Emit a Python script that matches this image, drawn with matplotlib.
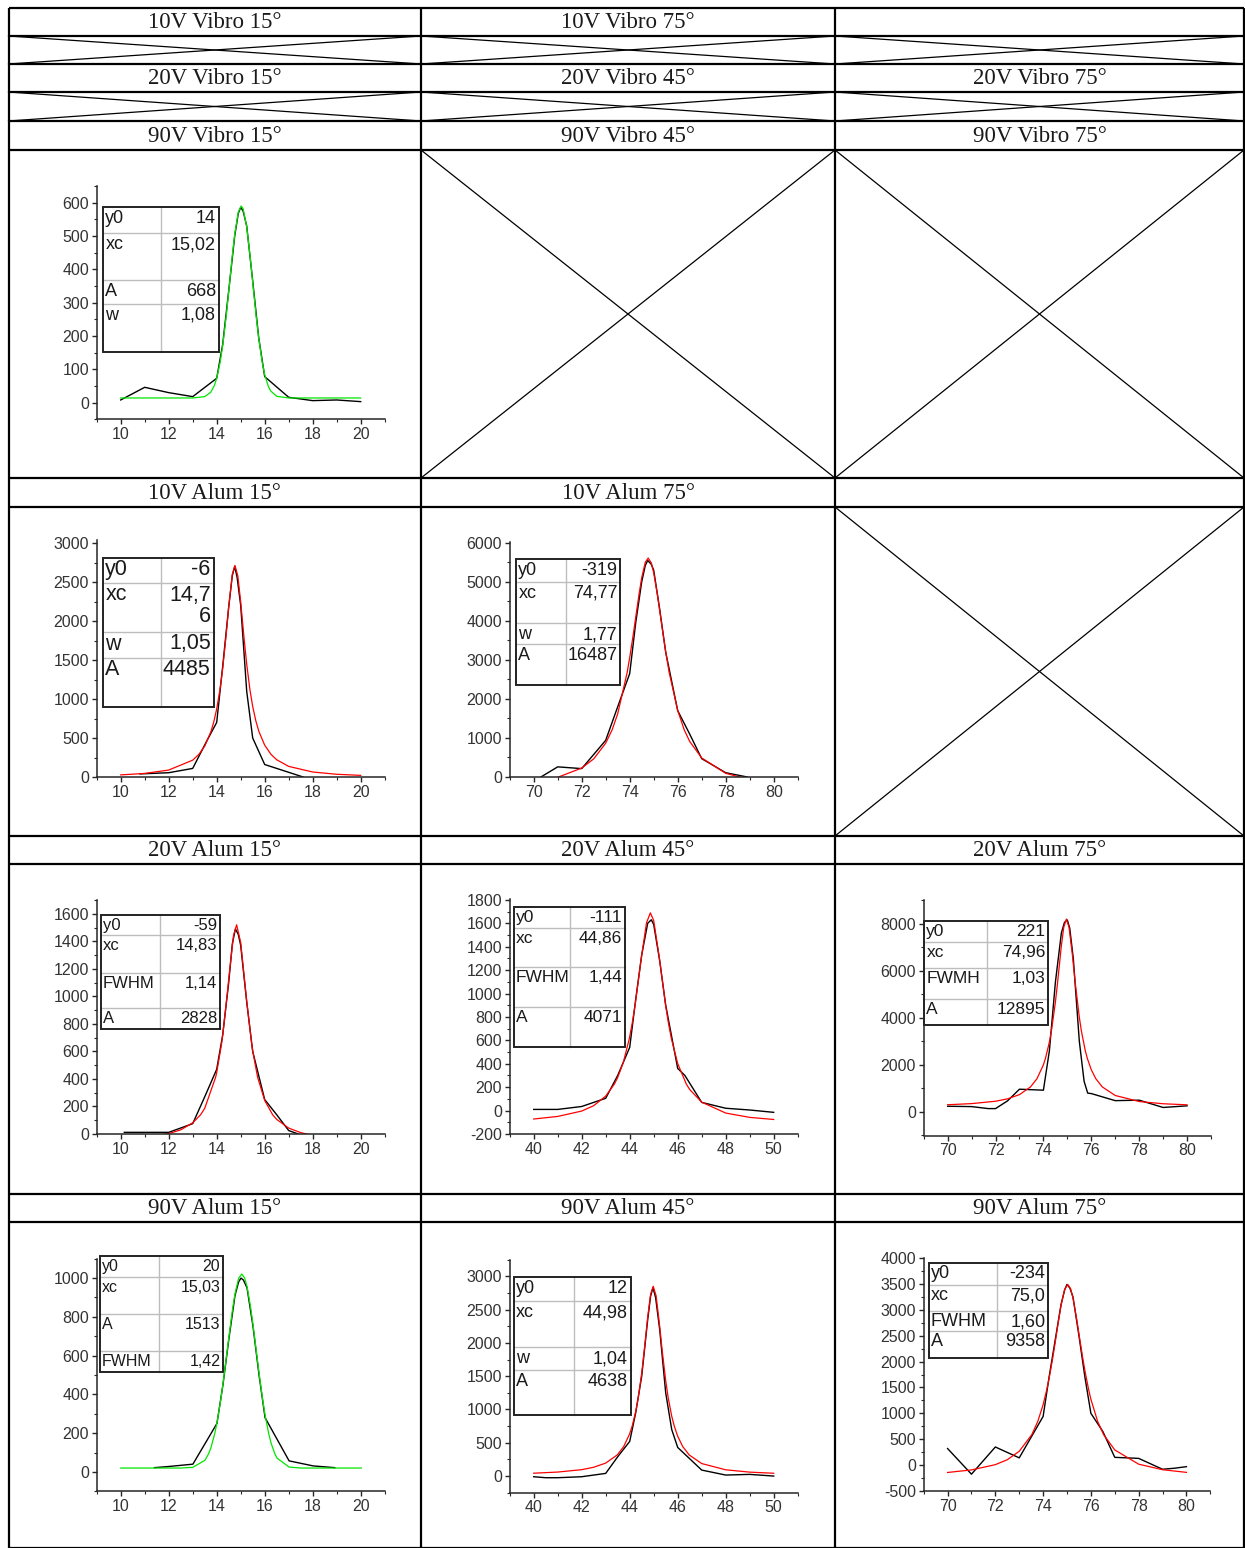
import matplotlib.pyplot as plt
from matplotlib.patches import Rectangle
from matplotlib.ticker import MultipleLocator

plt.rcParams['font.family'] = ['Liberation Sans', 'DejaVu Sans']
plt.rcParams['axes.unicode_minus'] = False

W, H = 1245, 1548

# table header texts (one list per header row)
head_10v_vibro = ['10V Vibro 15°', '10V Vibro 75°', '']
head_20v_vibro = ['20V Vibro 15°', '20V Vibro 45°', '20V Vibro 75°']
head_90v_vibro = ['90V Vibro 15°', '90V Vibro 45°', '90V Vibro 75°']
head_10v_alum = ['10V Alum 15°', '10V Alum 75°', '']
head_20v_alum = ['20V Alum 15°', '20V Alum 45°', '20V Alum 75°']
head_90v_alum = ['90V Alum 15°', '90V Alum 45°', '90V Alum 75°']

# 90V Vibro 15°  (data + gauss fit)
vib90_15_x = [10, 11, 12, 13, 14, 14.25, 14.5, 14.75, 14.9, 15, 15.1, 15.25, 15.5, 15.75, 16,
              17, 18, 19, 20]
vib90_15_y = [8, 46, 30, 18, 73, 175, 335, 500, 568, 586, 575, 530, 365, 195, 78,
              16, 6, 8, 3]
vib90_15_fx = [10, 11, 12, 13, 13.5, 13.75, 13.895, 14, 14.145, 14.25, 14.395, 14.5, 14.645,
               14.75, 14.9, 15.02, 15.1, 15.25, 15.395, 15.5, 15.645, 15.75, 15.895, 16,
               16.145, 16.25, 16.5, 17, 18, 19, 20]
vib90_15_fy = [14, 14, 14, 14, 18, 31, 50, 73, 122, 171, 259, 333, 437,
               505, 572, 590, 582, 527, 437, 362, 259, 194, 122, 84,
               50, 35, 19, 14, 14, 14, 14]
vib90_15_lab = ['y0', 'xc', 'A', 'w']
vib90_15_val = ['14', '15,02', '668', '1,08']

# 10V Alum 15°
al10_15_x = [10.8, 11, 12, 13, 13.3, 13.6, 14, 14.25, 14.5, 14.65, 14.75, 14.85, 15, 15.25,
             15.5, 16, 17, 17.6]
al10_15_y = [40, 42, 55, 110, 290, 470, 700, 1420, 2180, 2580, 2700, 2560, 2200, 1100,
             500, 160, 60, 0]
al10_15_fx = [10, 11, 12, 13, 13.26, 13.5, 13.76, 13.885, 14, 14.135, 14.25, 14.385, 14.5, 14.65,
              14.76, 14.88, 15, 15.135, 15.25, 15.385, 15.5, 15.635, 15.76, 16, 16.26, 16.5,
              17, 18, 19, 20]
al10_15_fy = [27, 46, 89, 216, 291, 396, 582, 714, 873, 1119, 1393, 1795, 2178, 2599,
              2713, 2579, 2243, 1795, 1447, 1119, 904, 714, 582, 408, 291, 221,
              136, 64, 35, 21]
al10_15_lab = ['y0', 'xc', 'w', 'A']
al10_15_val = ['-6', '14,7\n6', '1,05', '4485']

# 10V Alum 75°
al10_75_x = [70.3, 71, 72, 73, 73.5, 74, 74.25, 74.5, 74.65, 74.75, 74.9, 75, 75.25, 75.5, 76,
             76.5, 77, 78, 78.9]
al10_75_y = [0, 260, 215, 940, 1800, 2650, 3950, 5000, 5420, 5550, 5450, 5300, 4300, 3200, 1700,
             1100, 470, 110, 0]
al10_75_fx = [70, 71, 72, 72.5, 73, 73.27, 73.5, 73.895, 74, 74.145, 74.25, 74.395, 74.5, 74.65,
              74.77, 74.9, 75, 75.145, 75.25, 75.395, 75.5, 75.645, 76, 76.27, 76.5, 77, 78,
              79, 80]
al10_75_fy = [-122, -9, 230, 464, 867, 1212, 1620, 2680, 3059, 3638, 4089, 4708, 5105, 5504,
              5611, 5486, 5235, 4708, 4263, 3638, 3210, 2680, 1705, 1212, 911, 488, 95,
              -70, -154]
al10_75_lab = ['y0', 'xc', 'w', 'A']
al10_75_val = ['-319', '74,77', '1,77', '16487']

# 20V Alum 15°
al20_15_x = [10.15, 12, 13, 13.5, 14, 14.25, 14.5, 14.65, 14.78, 14.9, 15, 15.25, 15.5, 16,
             16.5, 17, 17.4]
al20_15_y = [12, 12, 75, 270, 470, 720, 1100, 1380, 1490, 1450, 1370, 960, 600, 250,
             140, 25, 0]
al20_15_fx = [10, 11, 12, 12.5, 13, 13.33, 13.5, 13.955, 14, 14.205, 14.25, 14.455, 14.5, 14.7,
              14.83, 15, 15.205, 15.25, 15.455, 15.5, 15.705, 16, 16.33, 16.5, 17, 17.5, 18, 20]
al20_15_fy = [-37, -25, 3, 30, 81, 140, 186, 412, 447, 658, 717, 1043, 1124, 1442,
              1520, 1391, 1043, 965, 658, 604, 412, 244, 140, 106, 43, 10, -10, -40]
al20_15_lab = ['y0', 'xc', 'FWHM', 'A']
al20_15_val = ['-59', '14,83', '1,14', '2828']

# 20V Alum 45°
al20_45_x = [40, 41, 42, 43, 43.5, 44, 44.25, 44.5, 44.75, 44.9, 45, 45.25, 45.5, 46, 46.3,
             47, 48, 49, 50]
al20_45_y = [10, 10, 35, 105, 300, 540, 950, 1330, 1600, 1630, 1590, 1280, 900, 360, 300,
             70, 20, 5, -15]
al20_45_fx = [40, 41, 42, 42.5, 43, 43.36, 43.5, 43.735, 43.985, 44.11, 44.235, 44.485, 44.7,
              44.86, 45, 45.235, 45.485, 45.61, 45.735, 46, 46.36, 46.5, 47, 48, 49, 50]
al20_45_fy = [-72, -50, -4, 42, 124, 226, 283, 412, 616, 752, 915, 1305, 1604,
              1689, 1623, 1305, 915, 752, 616, 402, 226, 180, 72, -21, -58, -76]
al20_45_lab = ['y0', 'xc', 'FWHM', 'A']
al20_45_val = ['-111', '44,86', '1,44', '4071']

# 20V Alum 75°
al20_75_x = [70, 71, 71.7, 72, 72.5, 73, 74, 74.25, 74.5, 74.75, 74.88, 75, 75.1, 75.25, 75.5,
             75.7, 75.85, 76, 77, 78, 79, 80]
al20_75_y = [242, 227, 142, 142, 469, 966, 924, 2600, 5500, 7600, 8050, 8150, 7800, 6500, 3000,
             1300, 800, 780, 480, 500, 190, 260]
al20_75_fx = [70, 71, 72, 72.5, 73, 73.46, 73.73, 74, 74.085, 74.25, 74.335, 74.5, 74.585,
              74.75, 74.85, 74.96, 75.07, 75.2, 75.335, 75.5, 75.585, 75.75, 75.835, 76,
              76.19, 76.46, 77, 78, 79, 80]
al20_75_fy = [306, 354, 455, 556, 736, 1062, 1410, 2002, 2272, 2969, 3444, 4654, 5429,
              7056, 7845, 8191, 7845, 6770, 5429, 4018, 3444, 2598, 2272, 1791,
              1410, 1062, 699, 443, 348, 303]
al20_75_lab = ['y0', 'xc', 'FWMH', 'A']
al20_75_val = ['221', '74,96', '1,03', '12895']

# 90V Alum 15°  (gauss fit)
al90_15_x = [11.4, 12, 13, 14, 14.25, 14.5, 14.75, 14.9, 15, 15.1, 15.25, 15.5, 15.75, 16,
             17, 18, 18.9]
al90_15_y = [22, 28, 40, 250, 450, 690, 910, 980, 1000, 990, 950, 750, 500, 280,
             57, 31, 22]
al90_15_fx = [10, 12, 12.5, 13, 13.5, 13.655, 13.75, 13.905, 14, 14.155, 14.25, 14.405, 14.5,
              14.655, 14.75, 14.9, 15.03, 15.15, 15.25, 15.405, 15.5, 15.655, 15.75, 15.905,
              16, 16.155, 16.25, 16.405, 16.5, 17, 17.5, 20]
al90_15_fy = [20, 20, 20, 24, 60, 94, 125, 196, 253, 369, 454, 605, 700,
              845, 919, 998, 1021, 1001, 957, 845, 759, 605, 510, 369,
              294, 196, 149, 94, 71, 25, 20, 20]
al90_15_lab = ['y0', 'xc', 'A', 'FWHM']
al90_15_val = ['20', '15,03', '1513', '1,42']

# 90V Alum 45°
al90_45_x = [40, 40.5, 41, 42, 43, 43.5, 44, 44.25, 44.5, 44.75, 44.87, 44.97, 45.08, 45.25,
             45.5, 45.75, 46, 46.5, 47, 48, 49, 50]
al90_45_y = [-10, -25, -25, -10, 40, 290, 520, 950, 1500, 2350, 2700, 2830, 2680, 2200,
             1250, 700, 430, 260, 90, 15, 25, 0]
al90_45_fx = [40, 41, 42, 42.5, 43, 43.48, 43.75, 44, 44.105, 44.25, 44.355, 44.5, 44.605,
              44.75, 44.87, 44.98, 45.1, 45.25, 45.355, 45.5, 45.605, 45.75, 45.855, 46,
              46.21, 46.48, 47, 48, 49, 50]
al90_45_fy = [43, 60, 96, 132, 195, 317, 443, 636, 753, 968, 1173, 1545, 1880,
              2387, 2729, 2851, 2708, 2248, 1880, 1432, 1173, 901, 753, 598,
              443, 317, 188, 94, 59, 42]
al90_45_lab = ['y0', 'xc', 'w', 'A']
al90_45_val = ['12', '44,98', '1,04', '4638']

# 90V Alum 75°
al90_75_x = [70, 71, 72, 73, 74, 74.25, 74.5, 74.75, 74.9, 75, 75.12, 75.25, 75.5, 75.75, 76,
             76.5, 77, 78, 79, 79.5, 80]
al90_75_y = [320, -175, 350, 140, 940, 1700, 2400, 3100, 3380, 3490, 3420, 3250, 2500, 1700, 1000,
             650, 150, 130, -80, -60, -30]
al90_75_fx = [70, 71, 72, 72.5, 73, 73.53, 73.78, 74, 74.155, 74.25, 74.405, 74.5, 74.655,
              74.75, 74.9, 75.03, 75.15, 75.25, 75.405, 75.5, 75.655, 75.75, 75.905, 76,
              76.28, 76.53, 77, 78, 79, 80]
al90_75_fy = [-142, -93, 9, 104, 267, 591, 848, 1167, 1461, 1675, 2078, 2353, 2819,
              3083, 3393, 3489, 3407, 3227, 2819, 2534, 2078, 1823, 1461, 1273,
              848, 591, 293, 18, -89, -140]
al90_75_lab = ['y0', 'xc', 'FWHM', 'A']
al90_75_val = ['-234', '75,0', '1,60', '9358']


fig = plt.figure(figsize=(W / 100, H / 100), dpi=100)

# background axes in pixel units for the table grid
bg = fig.add_axes([0, 0, 1, 1])
bg.set_xlim(0, W)
bg.set_ylim(H, 0)
bg.axis('off')

col_x = [8.5, 421, 835, 1244]
row_y = [8, 36, 64, 92, 121, 150, 478, 507, 836, 864, 1194, 1222, 1548]

for yy in row_y:
    bg.plot([col_x[0], col_x[-1]], [yy, yy], color='black', lw=1.6, solid_capstyle='butt')
for xx in col_x:
    bg.plot([xx, xx], [row_y[0], row_y[-1]], color='black', lw=1.6, solid_capstyle='butt')

# crossed (empty) cells: (row index, column index)
crossed = [(1, 0), (1, 1), (1, 2), (3, 0), (3, 1), (3, 2), (5, 1), (5, 2), (7, 2)]
for r, c in crossed:
    x0, x1 = col_x[c], col_x[c + 1]
    y0, y1 = row_y[r], row_y[r + 1]
    bg.plot([x0, x1], [y0, y1], color='black', lw=0.9)
    bg.plot([x0, x1], [y1, y0], color='black', lw=0.9)

headers = [(0, head_10v_vibro), (2, head_20v_vibro), (4, head_90v_vibro),
           (6, head_10v_alum), (8, head_20v_alum), (10, head_90v_alum)]
for r, texts in headers:
    yc = (row_y[r] + row_y[r + 1]) / 2
    for c, t in enumerate(texts):
        xc = (col_x[c] + col_x[c + 1]) / 2
        bg.text(xc, yc + 1, t, ha='center', va='center', fontsize=16.5,
                family=['Liberation Serif', 'DejaVu Serif'], color='#1a1a1a')


def add_inset(box, divider, lines, labels, values, fs, off=3):
    x0, y0, x1, y1 = box
    bg.add_patch(Rectangle((x0, y0), x1 - x0, y1 - y0, fill=False, ec='#222222', lw=1.4, zorder=3))
    bg.plot([divider, divider], [y0, y1], color='#bdbdbd', lw=1, zorder=2)
    for yl in lines:
        bg.plot([x0, x1], [yl, yl], color='#bdbdbd', lw=1, zorder=2)
    for top, lab, val in zip([y0] + lines, labels, values):
        bg.text(x0 + 2, top + off, lab, ha='left', va='top', fontsize=fs, color='#1a1a1a',
                linespacing=1.0)
        bg.text(x1 - 3, top + off, val, ha='right', va='top', fontsize=fs, color='#1a1a1a',
                linespacing=1.0)


def add_panel(px, xlim, ylim, ymaj, dx, dy, fx, fy, fcolor):
    left, top, right, bottom = px
    ax = fig.add_axes([left / W, 1 - bottom / H, (right - left) / W, (bottom - top) / H])
    ax.patch.set_alpha(0)
    ax.plot(dx, dy, color='black', lw=1.0)
    ax.plot(fx, fy, color=fcolor, lw=0.9)
    ax.set_xlim(*xlim)
    ax.set_ylim(*ylim)
    ax.xaxis.set_major_locator(MultipleLocator(2))
    ax.xaxis.set_minor_locator(MultipleLocator(1))
    ax.yaxis.set_major_locator(MultipleLocator(ymaj))
    ax.yaxis.set_minor_locator(MultipleLocator(ymaj / 2))
    for s in ['top', 'right']:
        ax.spines[s].set_visible(False)
    for s in ['left', 'bottom']:
        ax.spines[s].set_color('#262626')
        ax.spines[s].set_linewidth(1.1)
    ax.tick_params(which='major', direction='out', length=3.5, width=1, color='#262626',
                   labelsize=11.5, labelcolor='#333333', pad=2)
    ax.tick_params(which='minor', direction='out', length=2, width=0.8, color='#262626')
    return ax


green = '#00e600'
red = '#ff0000'

# 90V Vibro 15°
add_panel((96.7, 186, 384.7, 419.3), (9, 21), (-50, 650), 100,
          vib90_15_x, vib90_15_y, vib90_15_fx, vib90_15_fy, green)
add_inset((103.3, 207.3, 219, 351.7), 161.3, [233.3, 280, 304],
          vib90_15_lab, vib90_15_val, 13)

# 10V Alum 15°
add_panel((96.7, 540.3, 384.7, 777), (9, 21), (0, 3035), 500,
          al10_15_x, al10_15_y, al10_15_fx, al10_15_fy, red)
add_inset((103.3, 557.7, 213.7, 707), 161.3, [583, 632, 657.7],
          al10_15_lab, al10_15_val, 15.5, off=1.5)

# 10V Alum 75°
add_panel((509.7, 541.7, 797.7, 777), (69, 81), (0, 6030), 1000,
          al10_75_x, al10_75_y, al10_75_fx, al10_75_fy, red)
add_inset((516.3, 559.3, 620.3, 685.3), 566.3, [582, 623, 643.7],
          al10_75_lab, al10_75_val, 13)

# 20V Alum 15°
add_panel((96.7, 900, 384.7, 1134), (9, 21), (0, 1700), 200,
          al20_15_x, al20_15_y, al20_15_fx, al20_15_fy, red)
add_inset((100.7, 915, 220, 1029), 160, [935, 973.3, 1008.3],
          al20_15_lab, al20_15_val, 12)

# 20V Alum 45°
add_panel((509.7, 898.7, 797.7, 1134), (39, 51), (-200, 1810), 200,
          al20_45_x, al20_45_y, al20_45_fx, al20_45_fy, red)
add_inset((513.7, 906.7, 625, 1046.7), 570.3, [928.3, 967, 1007.3],
          al20_45_lab, al20_45_val, 12.5)

# 20V Alum 75°
add_panel((923.7, 900, 1211, 1135.5), (69, 81), (-1000, 9000), 2000,
          al20_75_x, al20_75_y, al20_75_fx, al20_75_fy, red)
add_inset((924.3, 920.7, 1048.3, 1025), 986.7, [941.7, 968.3, 999],
          al20_75_lab, al20_75_val, 12.5)

# 90V Alum 15°
add_panel((96.7, 1258.7, 385.3, 1491.3), (9, 21), (-100, 1100), 200,
          al90_15_x, al90_15_y, al90_15_fx, al90_15_fy, green)
add_inset((100, 1256.3, 223.3, 1372), 158.7, [1277.3, 1314.3, 1351.3],
          al90_15_lab, al90_15_val, 11.5, off=2.5)

# 90V Alum 45°
add_panel((509.7, 1259.7, 797.7, 1492.7), (39, 51), (-250, 3250), 500,
          al90_45_x, al90_45_y, al90_45_fx, al90_45_fy, red)
add_inset((513.7, 1277, 631, 1414.7), 574.3, [1301.3, 1347, 1369.7],
          al90_45_lab, al90_45_val, 13)

# 90V Alum 75°
add_panel((923.7, 1258, 1210.3, 1491), (69, 81), (-500, 4000), 500,
          al90_75_x, al90_75_y, al90_75_fx, al90_75_fy, red)
add_inset((929, 1262.7, 1048.3, 1358), 997.3, [1285.3, 1311.3, 1331.3],
          al90_75_lab, al90_75_val, 13, off=2)

fig.savefig('out.png', dpi=100)
